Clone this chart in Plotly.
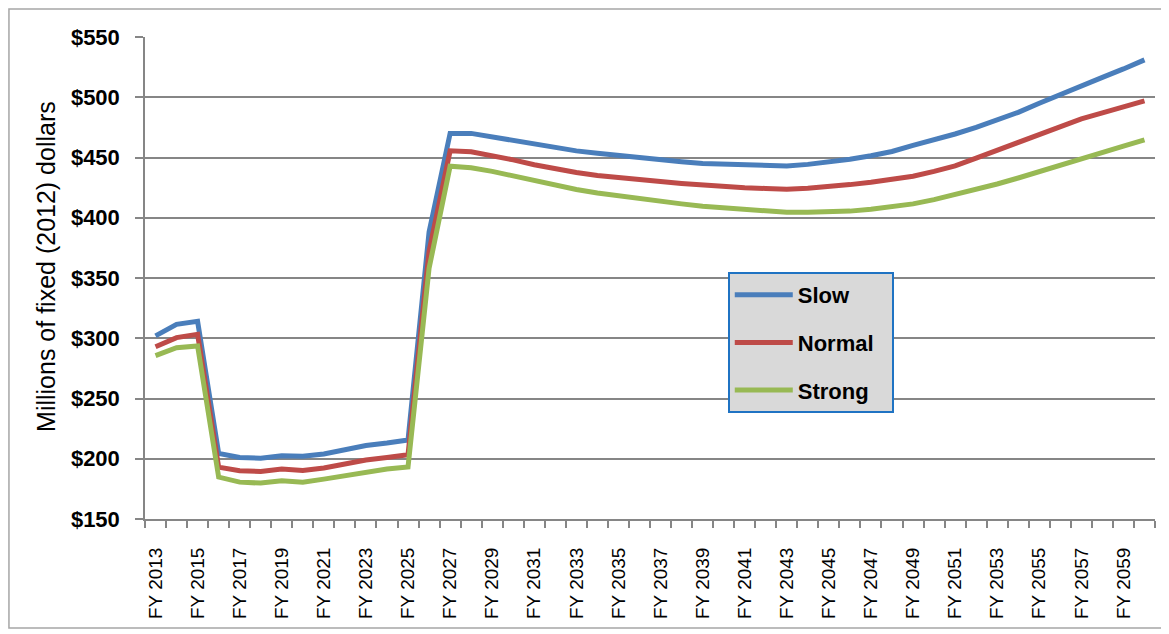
"""Projected costs by growth scenario, FY 2013 - FY 2060."""

import plotly.graph_objects as go

years = list(range(2013, 2061))
year_labels = [f"FY {y}" for y in years]

slow = [302, 311.5, 314, 204.5, 201, 200.5, 202.5, 202, 204, 207.5, 211, 213, 215.5,
        388,
        470, 470, 467, 464, 460.5, 457.5, 455.5, 453.5, 451.5, 449.5, 448, 446.5, 445,
        444.3, 443.7, 443.2, 443, 444.3, 446, 448.5, 451.5, 455, 460, 464.5, 469.5, 475,
        481, 487.5, 495, 502.5, 509.5, 516.5, 523.5, 531]
normal = [293, 300.5, 303.3, 193, 190, 189.5, 191.5, 190.3, 192.3, 195.6, 199, 201, 203.3,
          372,
          455.5, 454.7, 451.5, 448, 444, 440.5, 437.5, 435, 433, 431.5, 430, 428.5, 427,
          426, 425, 424.3, 423.7, 424.5, 425.6, 427.5, 429.5, 431.5, 434.5, 438.5, 443,
          449.5, 456, 462.5, 469.5, 476, 482, 487, 492, 497]
strong = [285.6, 292.2, 293.6, 184.8, 180.6, 179.8, 181.7, 180.6, 183.1, 186.2, 189, 191.5, 193.1,
          358,
          442.8, 441.5, 438.5, 434.5, 430.5, 426.5, 423.5, 420.5, 418, 415.5, 413.5, 411.5, 409.5,
          408, 406.5, 405.5, 404.5, 404.5, 404.5, 405.5, 407, 409, 411.5, 415, 419,
          423.5, 428, 433, 438.5, 444, 449, 454, 459.5, 464.7]

y_ticks = [150, 200, 250, 300, 350, 400, 450, 500, 550]

SERIES = (("Slow", slow, "#4a7ebb"), ("Normal", normal, "#be4b48"), ("Strong", strong, "#98b954"))
GRID = "#868686"
FONT = "Liberation Sans, Arial, sans-serif"

idx = list(range(len(years)))
fig = go.Figure()
for name, values, color in SERIES:
    label = f"<b>{name}</b>" + ("&nbsp;&nbsp;" if name == "Normal" else "")
    fig.add_trace(go.Scatter(x=idx, y=values, mode="lines", name=label, legendgroup=name,
                             line={"color": color, "width": 5}))
# empty trace so the boundary-tick axis gets drawn
fig.add_trace(go.Scatter(x=[], y=[], xaxis="x2", showlegend=False, hoverinfo="skip"))

x_range = [-0.5, len(years) - 0.5]
# page body keeps an 8px margin, so the figure is 8px smaller than the window
fig.update_layout(
    width=1161, height=626,
    margin={"l": 137, "r": 14, "t": 29, "b": 115},
    paper_bgcolor="white", plot_bgcolor="white",
    font={"family": FONT, "color": "black"},
    xaxis={
        "range": x_range, "tickmode": "array",
        "tickvals": idx[::2], "ticktext": year_labels[::2],
        "tickangle": -90, "tickfont": {"size": 19},
        "ticks": "outside", "ticklen": 20, "tickcolor": "rgba(0,0,0,0)",
        "showgrid": False, "zeroline": False, "showline": False,
    },
    xaxis2={
        "range": x_range, "overlaying": "x", "anchor": "y", "side": "bottom",
        "tickmode": "array", "tickvals": [i - 0.5 for i in range(len(years) + 1)],
        "ticks": "outside", "ticklen": 7, "tickcolor": GRID, "tickwidth": 1.5,
        "showticklabels": False, "showgrid": False, "zeroline": False,
        "showline": True, "linecolor": GRID, "linewidth": 1.5,
    },
    yaxis={
        "range": [150, 550], "tickmode": "array", "tickvals": y_ticks,
        "ticktext": [f"<b>${v}</b>" for v in y_ticks],
        "tickfont": {"size": 22, "family": FONT},
        "ticks": "outside", "ticklen": 8, "tickcolor": GRID, "tickwidth": 1.5,
        "ticklabelstandoff": 11,
        "gridcolor": GRID, "gridwidth": 1.5,
        "showline": True, "linecolor": GRID, "linewidth": 1.5, "zeroline": False,
    },
    legend={
        "x": 0.577, "y": 0.5124, "xanchor": "left", "yanchor": "top",
        "bgcolor": "#d9d9d9", "bordercolor": "#1f73c3", "borderwidth": 2,
        "font": {"size": 22}, "traceorder": "grouped", "tracegroupgap": 16,
        "itemwidth": 58,
    },
    annotations=[{
        "text": "Millions of fixed (2012) dollars", "textangle": -90,
        "xref": "paper", "yref": "paper", "x": -0.098, "y": 0.523,
        "xanchor": "center", "yanchor": "middle",
        "showarrow": False, "font": {"size": 25},
    }],
    shapes=[{
        "type": "rect", "xref": "paper", "yref": "paper",
        "x0": -0.1347, "x1": 1.0079, "y0": -0.226, "y1": 1.058,
        "line": {"color": "#a6a6a6", "width": 1.5},
    }],
)

fig.write_html("out.html")
